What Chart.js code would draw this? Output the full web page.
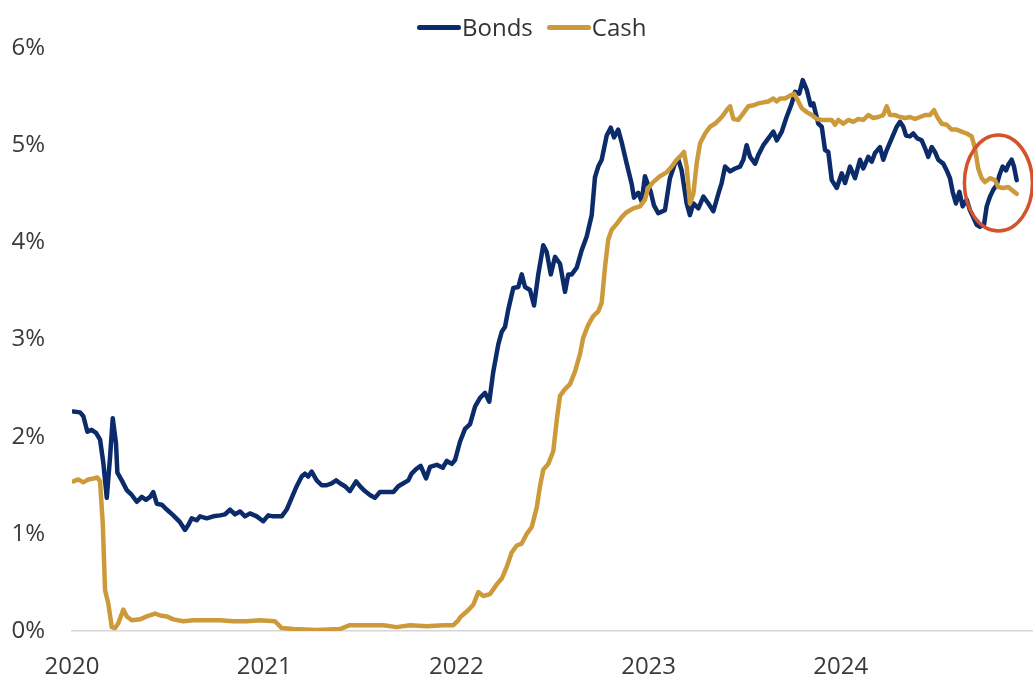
<!DOCTYPE html>
<html>
<head>
<meta charset="utf-8">
<title>Bonds vs Cash yields</title>
<script src="https://cdn.jsdelivr.net/npm/chart.js@4.4.1/dist/chart.umd.min.js"></script>
<style>
    body { margin: 0; background: #fff; }
    #wrap { position: relative; width: 1033px; height: 678px; }
    #legend {
        position: absolute; left: 417px; top: 12px;
        display: flex; align-items: center;
        font-family: "Open Sans", sans-serif; font-size: 24px; line-height: 30px;
        color: #333;
    }
    #legend .swatch { width: 44px; height: 5px; border-radius: 3px; margin-right: 1px; }
    #legend .gap { width: 14px; }
</style>
</head>
<body>
<div id="wrap">
    <canvas id="chart" width="1033" height="678"></canvas>
    <div id="legend">
        <span class="swatch" style="background:#0b2b6b"></span><span>Bonds</span>
        <span class="gap"></span>
        <span class="swatch" style="background:#cc9a3a"></span><span>Cash</span>
    </div>
</div>
<script>
// ── Data (decimal years, yields in %) ────────────────────────────
const bondDates = [
    2020.007, 2020.042, 2020.059, 2020.080, 2020.102, 2020.125, 2020.146, 2020.163, 2020.181, 2020.198,
    2020.212, 2020.229, 2020.236, 2020.259, 2020.285, 2020.311, 2020.337, 2020.363, 2020.385, 2020.406,
    2020.423, 2020.441, 2020.467, 2020.493, 2020.527, 2020.562, 2020.588, 2020.605, 2020.623, 2020.649,
    2020.666, 2020.701, 2020.735, 2020.770, 2020.796, 2020.822, 2020.848, 2020.874, 2020.900, 2020.926,
    2020.961, 2020.995,
    2021.021, 2021.047, 2021.091, 2021.117, 2021.143, 2021.169, 2021.195, 2021.212, 2021.229, 2021.247,
    2021.273, 2021.299, 2021.325, 2021.351, 2021.374, 2021.394, 2021.420, 2021.446, 2021.478, 2021.498,
    2021.524, 2021.550, 2021.576, 2021.602, 2021.637, 2021.672, 2021.698, 2021.724, 2021.750, 2021.767,
    2021.793, 2021.814, 2021.842, 2021.863, 2021.898, 2021.929, 2021.950, 2021.976, 2021.993,
    2022.019, 2022.045, 2022.071, 2022.097, 2022.123, 2022.149, 2022.171, 2022.192, 2022.218, 2022.236,
    2022.253, 2022.270, 2022.296, 2022.322, 2022.340, 2022.357, 2022.383, 2022.404, 2022.426, 2022.452,
    2022.470, 2022.491, 2022.513, 2022.539, 2022.565, 2022.582, 2022.600, 2022.626, 2022.652, 2022.678,
    2022.704, 2022.721, 2022.738, 2022.756, 2022.782, 2022.803, 2022.820, 2022.842, 2022.860, 2022.886,
    2022.912, 2022.924, 2022.946, 2022.964,
    2022.981, 2023.011, 2023.028, 2023.050, 2023.085, 2023.111, 2023.137, 2023.155, 2023.172, 2023.198,
    2023.215, 2023.233, 2023.259, 2023.285, 2023.311, 2023.337, 2023.363, 2023.380, 2023.398, 2023.424,
    2023.450, 2023.476, 2023.493, 2023.510, 2023.528, 2023.554, 2023.571, 2023.597, 2023.623, 2023.649,
    2023.667, 2023.693, 2023.718, 2023.745, 2023.762, 2023.784, 2023.802, 2023.823, 2023.843, 2023.857,
    2023.883, 2023.901, 2023.918, 2023.935, 2023.953, 2023.979,
    2024.005, 2024.022, 2024.048, 2024.074, 2024.100, 2024.117, 2024.143, 2024.161, 2024.178, 2024.204,
    2024.221, 2024.239, 2024.265, 2024.291, 2024.308, 2024.325, 2024.339, 2024.360, 2024.377, 2024.398,
    2024.421, 2024.438, 2024.455, 2024.473, 2024.490, 2024.507, 2024.533, 2024.551, 2024.568, 2024.582,
    2024.599, 2024.617, 2024.634, 2024.655, 2024.672, 2024.689, 2024.707, 2024.724, 2024.745, 2024.759,
    2024.776, 2024.793, 2024.811, 2024.825, 2024.842, 2024.860, 2024.872, 2024.889, 2024.901, 2024.915
];
const bondYields = [
    2.26, 2.25, 2.21, 2.05, 2.07, 2.04, 1.97, 1.73, 1.37, 1.79,
    2.19, 1.93, 1.63, 1.55, 1.45, 1.40, 1.33, 1.38, 1.35, 1.38,
    1.43, 1.31, 1.30, 1.25, 1.19, 1.12, 1.04, 1.09, 1.16, 1.14,
    1.18, 1.16, 1.18, 1.19, 1.20, 1.25, 1.20, 1.23, 1.18, 1.21,
    1.18, 1.13,
    1.19, 1.18, 1.18, 1.25, 1.37, 1.49, 1.59, 1.62, 1.59, 1.64,
    1.55, 1.50, 1.50, 1.52, 1.55, 1.52, 1.49, 1.44, 1.54, 1.49,
    1.44, 1.40, 1.37, 1.43, 1.43, 1.43, 1.49, 1.52, 1.55, 1.62,
    1.67, 1.70, 1.57, 1.69, 1.71, 1.68, 1.75, 1.72, 1.76,
    1.95, 2.08, 2.13, 2.31, 2.40, 2.45, 2.36, 2.67, 2.95, 3.08,
    3.13, 3.31, 3.53, 3.54, 3.67, 3.54, 3.51, 3.35, 3.67, 3.97,
    3.90, 3.67, 3.85, 3.78, 3.49, 3.67, 3.67, 3.74, 3.92, 4.06,
    4.28, 4.67, 4.78, 4.85, 5.10, 5.18, 5.08, 5.16, 5.03, 4.81,
    4.60, 4.46, 4.51, 4.42,
    4.68, 4.52, 4.38, 4.30, 4.33, 4.66, 4.81, 4.85, 4.74, 4.40,
    4.28, 4.40, 4.35, 4.47, 4.40, 4.32, 4.50, 4.61, 4.78, 4.73,
    4.76, 4.78, 4.85, 5.00, 4.88, 4.81, 4.90, 5.00, 5.07, 5.14,
    5.05, 5.14, 5.29, 5.43, 5.55, 5.53, 5.67, 5.57, 5.41, 5.43,
    5.22, 5.19, 4.95, 4.93, 4.64, 4.56,
    4.71, 4.61, 4.78, 4.66, 4.85, 4.76, 4.88, 4.83, 4.92, 4.98,
    4.85, 4.95, 5.07, 5.19, 5.24, 5.19, 5.10, 5.09, 5.12, 5.07,
    5.05, 4.97, 4.88, 4.98, 4.93, 4.85, 4.81, 4.74, 4.66, 4.52,
    4.40, 4.52, 4.37, 4.44, 4.33, 4.26, 4.18, 4.16, 4.18, 4.37,
    4.47, 4.54, 4.59, 4.69, 4.78, 4.74, 4.80, 4.85, 4.78, 4.64
];

const cashDates = [
    2020.007, 2020.033, 2020.059, 2020.085, 2020.111, 2020.132, 2020.146, 2020.160, 2020.172, 2020.189,
    2020.207, 2020.224, 2020.241, 2020.267, 2020.285, 2020.311, 2020.354, 2020.389, 2020.432, 2020.458,
    2020.493, 2020.527, 2020.579, 2020.631, 2020.718, 2020.770, 2020.839, 2020.909, 2020.978,
    2021.056, 2021.091, 2021.151, 2021.273, 2021.394, 2021.446, 2021.550, 2021.620, 2021.689, 2021.759,
    2021.845, 2021.932, 2021.984,
    2022.010, 2022.019, 2022.054, 2022.088, 2022.114, 2022.140, 2022.175, 2022.210, 2022.236, 2022.262,
    2022.288, 2022.314, 2022.340, 2022.366, 2022.392, 2022.418, 2022.435, 2022.452, 2022.478, 2022.504,
    2022.522, 2022.539, 2022.565, 2022.591, 2022.617, 2022.643, 2022.660, 2022.686, 2022.712, 2022.738,
    2022.756, 2022.773, 2022.790, 2022.808, 2022.834, 2022.860, 2022.886, 2022.920, 2022.955,
    2022.981, 2022.998, 2023.024, 2023.059, 2023.094, 2023.120, 2023.146, 2023.172, 2023.184, 2023.198,
    2023.215, 2023.233, 2023.250, 2023.268, 2023.294, 2023.320, 2023.345, 2023.371, 2023.389, 2023.406,
    2023.424, 2023.441, 2023.467, 2023.493, 2023.519, 2023.545, 2023.571, 2023.597, 2023.623, 2023.649,
    2023.667, 2023.684, 2023.710, 2023.736, 2023.757, 2023.779, 2023.797, 2023.823, 2023.849, 2023.875,
    2023.901, 2023.927, 2023.953, 2023.970, 2023.987,
    2024.013, 2024.039, 2024.065, 2024.091, 2024.117, 2024.143, 2024.169, 2024.195, 2024.221, 2024.239,
    2024.256, 2024.282, 2024.308, 2024.334, 2024.360, 2024.386, 2024.412, 2024.438, 2024.464, 2024.485,
    2024.502, 2024.525, 2024.551, 2024.577, 2024.603, 2024.629, 2024.655, 2024.681, 2024.698, 2024.715,
    2024.733, 2024.750, 2024.776, 2024.802, 2024.819, 2024.845, 2024.871, 2024.889, 2024.915
];
const cashYields = [
    1.54, 1.56, 1.53, 1.56, 1.57, 1.58, 1.54, 1.11, 0.42, 0.28,
    0.04, 0.03, 0.08, 0.22, 0.15, 0.11, 0.12, 0.15, 0.18, 0.16,
    0.15, 0.12, 0.10, 0.11, 0.11, 0.11, 0.10, 0.10, 0.11,
    0.10, 0.03, 0.02, 0.01, 0.02, 0.06, 0.06, 0.06, 0.04, 0.06,
    0.05, 0.06, 0.06,
    0.11, 0.14, 0.20, 0.27, 0.40, 0.36, 0.38, 0.48, 0.54, 0.66,
    0.81, 0.88, 0.90, 1.00, 1.07, 1.27, 1.49, 1.66, 1.72, 1.85,
    2.17, 2.42, 2.49, 2.54, 2.67, 2.85, 3.02, 3.15, 3.24, 3.29,
    3.38, 3.74, 4.03, 4.13, 4.19, 4.26, 4.31, 4.35, 4.37,
    4.44, 4.56, 4.62, 4.68, 4.72, 4.78, 4.85, 4.90, 4.93, 4.78,
    4.40, 4.50, 4.81, 5.02, 5.12, 5.19, 5.22, 5.27, 5.31, 5.36,
    5.40, 5.27, 5.26, 5.33, 5.40, 5.41, 5.43, 5.44, 5.45, 5.48,
    5.45, 5.48, 5.48, 5.51, 5.53, 5.45, 5.38, 5.34, 5.31, 5.27,
    5.26, 5.26, 5.26, 5.21, 5.26,
    5.22, 5.26, 5.24, 5.27, 5.26, 5.31, 5.28, 5.29, 5.31, 5.40,
    5.31, 5.31, 5.29, 5.28, 5.29, 5.27, 5.29, 5.31, 5.31, 5.36,
    5.29, 5.22, 5.21, 5.16, 5.16, 5.14, 5.12, 5.09, 4.97, 4.76,
    4.66, 4.62, 4.66, 4.64, 4.57, 4.56, 4.57, 4.54, 4.50
];

const yearTicks  = [2020, 2021, 2022, 2023, 2024];
const yieldTicks = [0, 1, 2, 3, 4, 5, 6];

// recent crossover, ringed in red
const ringYear  = 2024.82;
const ringYield = 4.61;

// ── Styles ───────────────────────────────────────────────────────
const BOND_COLOR = '#0b2b6b';
const CASH_COLOR = '#cc9a3a';
const TEXT_COLOR = '#3a3a3a';
const FONT       = { family: '"Open Sans", sans-serif', size: 24 };

const toPoints = (xs, ys) => xs.map((x, i) => ({ x, y: ys[i] }));

// Red ring drawn around a data position
const ringPlugin = {
    id: 'ring',
    afterDatasetsDraw(chart) {
        const { ctx, scales } = chart;
        const cx = scales.x.getPixelForValue(ringYear);
        const cy = scales.y.getPixelForValue(ringYield);
        ctx.save();
        ctx.beginPath();
        ctx.ellipse(cx, cy, 34, 48, 0, 0, Math.PI * 2);
        ctx.strokeStyle = '#d4532d';
        ctx.lineWidth = 3.5;
        ctx.stroke();
        ctx.restore();
    }
};

new Chart(document.getElementById('chart'), {
    type: 'line',
    data: {
        datasets: [
            {
                label: 'Bonds',
                data: toPoints(bondDates, bondYields),
                borderColor: BOND_COLOR,
                borderWidth: 4.5,
                order: 1
            },
            {
                label: 'Cash',
                data: toPoints(cashDates, cashYields),
                borderColor: CASH_COLOR,
                borderWidth: 4.5,
                order: 0
            }
        ]
    },
    options: {
        responsive: false,
        animation: false,
        devicePixelRatio: 1,
        layout: { padding: { top: 48, right: 0, left: 0, bottom: 0 } },
        elements: {
            point: { radius: 0, hoverRadius: 0 },
            line:  { tension: 0, borderJoinStyle: 'round', borderCapStyle: 'round', fill: false }
        },
        plugins: {
            legend:  { display: false },
            tooltip: { enabled: false }
        },
        scales: {
            x: {
                type: 'linear',
                min: 2020,
                max: 2025,
                afterBuildTicks: s => { s.ticks = yearTicks.map(v => ({ value: v })); },
                afterFit: s => { s.height = 47; },
                grid: { display: false, drawTicks: false },
                border: { display: true, color: '#d6d6d6', width: 1.5 },
                ticks: {
                    autoSkip: false,
                    maxRotation: 0,
                    padding: 22,
                    color: TEXT_COLOR,
                    font: FONT,
                    callback: v => String(v)
                }
            },
            y: {
                min: 0,
                max: 6,
                afterBuildTicks: s => { s.ticks = yieldTicks.map(v => ({ value: v })); },
                afterFit: s => { s.width = 72; },
                grid: { display: false, drawTicks: false },
                border: { display: false },
                ticks: {
                    padding: 27,
                    color: TEXT_COLOR,
                    font: FONT,
                    callback: v => v + '%'
                }
            }
        }
    },
    plugins: [ringPlugin]
});
</script>
</body>
</html>
